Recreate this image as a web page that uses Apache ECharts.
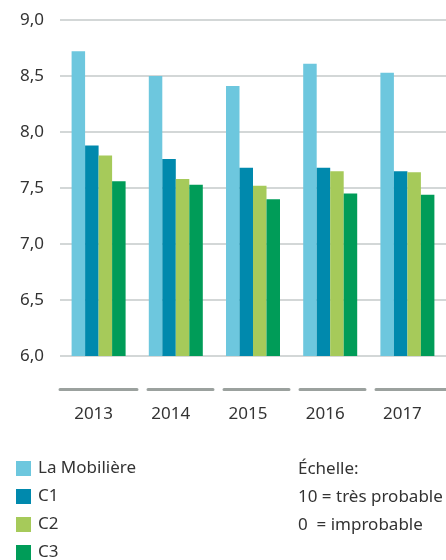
<!DOCTYPE html>
<html>
<head>
<meta charset="utf-8">
<script src="https://cdn.jsdelivr.net/npm/echarts@6/dist/echarts.min.js"></script>
<style>
  html, body { margin: 0; padding: 0; background: #fff; }
  #chart { width: 446px; height: 560px; }
</style>
</head>
<body>
<div id="chart"></div>
<script>
// Werte
var years = ['2013', '2014', '2015', '2016', '2017']
var laMobiliere = [8.72, 8.50, 8.41, 8.61, 8.53]
var c1 = [7.88, 7.76, 7.68, 7.68, 7.65]
var c2 = [7.79, 7.58, 7.52, 7.65, 7.64]
var c3 = [7.56, 7.53, 7.40, 7.45, 7.44]
var seriesNames = ['La Mobilière', 'C1', 'C2', 'C3']
var colors = ['#6dc7de', '#0089ad', '#a6ca5a', '#009c58']
var scaleText = 'Échelle:\n10 = très probable\n0  = improbable'

var font = 'Noto Sans'
var chart = echarts.init(document.getElementById('chart'))

var seriesData = [laMobiliere, c1, c2, c3]
var series = seriesNames.map(function(name, i) {
  return {
    name: name,
    type: 'bar',
    barWidth: 13.5,
    barGap: '0%',
    itemStyle: { color: colors[i] },
    data: seriesData[i]
  }
})

chart.setOption({
  animation: false,
  color: colors,
  textStyle: { fontFamily: font },
  grid: {
    left: 60,
    top: 20,
    width: 388,
    height: 336
  },
  title: {
    text: scaleText,
    left: 293,
    top: 450,
    textStyle: {
      fontFamily: font,
      fontSize: 17,
      fontWeight: 'normal',
      color: '#333',
      lineHeight: 28
    }
  },
  legend: {
    orient: 'vertical',
    left: 11,
    top: 455,
    height: 110,
    itemWidth: 15,
    itemHeight: 15,
    itemGap: 11,
    icon: 'rect',
    textStyle: { fontFamily: font, fontSize: 17, color: '#333', padding: [0, 0, 0, 2] },
    data: seriesNames
  },
  xAxis: {
    type: 'category',
    data: years,
    offset: 33,
    axisLine: {
      show: true,
      lineStyle: {
        color: '#9ba19e',
        width: 3,
        type: [77, 11, 65, 11, 65, 11, 65, 11, 90]
      }
    },
    axisTick: { show: false },
    axisLabel: {
      fontFamily: font,
      fontSize: 17,
      color: '#333',
      margin: 17,
      padding: [0, 10, 0, 0]
    }
  },
  yAxis: {
    type: 'value',
    min: 6,
    max: 9,
    interval: 0.5,
    axisLine: { show: false },
    axisTick: { show: false },
    splitLine: { lineStyle: { color: '#c5caca', width: 1.5 } },
    axisLabel: {
      fontFamily: font,
      fontSize: 17,
      color: '#333',
      margin: 16,
      formatter: function(v) { return v.toFixed(1).replace('.', ',') }
    }
  },
  series: series
})
</script>
</body>
</html>
